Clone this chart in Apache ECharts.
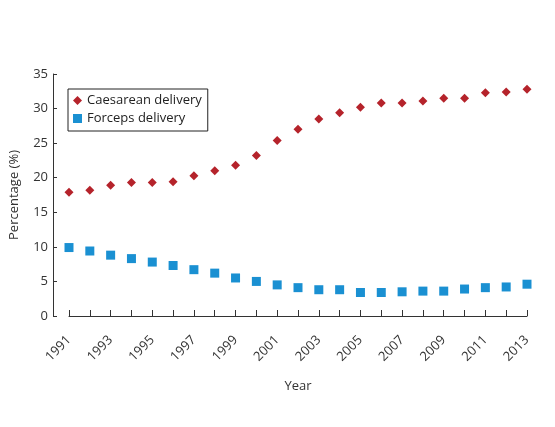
<!DOCTYPE html>
<html>
<head>
<meta charset="utf-8">
<script src="https://cdn.jsdelivr.net/npm/echarts@6/dist/echarts.min.js"></script>
<style>
  html, body { margin: 0; padding: 0; background: #fff; }
  #chart { width: 555px; height: 427px; }
</style>
</head>
<body>
<div id="chart"></div>
<script>
// 年份 及 两组百分比数据
var years = ['1991', '1992', '1993', '1994', '1995', '1996', '1997', '1998', '1999', '2000', '2001', '2002',
    '2003', '2004', '2005', '2006', '2007', '2008', '2009', '2010', '2011', '2012', '2013'];
var caesarean = [17.9, 18.2, 18.9, 19.3, 19.3, 19.4, 20.3, 21.0, 21.8, 23.2, 25.4, 27.0,
    28.5, 29.4, 30.2, 30.8, 30.8, 31.1, 31.5, 31.5, 32.3, 32.4, 32.8];
var forceps = [9.9, 9.4, 8.8, 8.3, 7.8, 7.3, 6.7, 6.2, 5.5, 5.0, 4.5, 4.1,
    3.8, 3.8, 3.4, 3.4, 3.5, 3.6, 3.6, 3.9, 4.1, 4.2, 4.6];
var yTicks = [0, 5, 10, 15, 20, 25, 30, 35];

var axisColor = '#333';
var font = '"Open Sans", sans-serif';

var chart = echarts.init(document.getElementById('chart'));
var option = {
    animation: false,
    textStyle: { fontFamily: font },
    grid: { left: 57, right: 28, top: 74, bottom: 111 },
    legend: {
        left: 68, top: 89,
        orient: 'vertical',
        padding: [5, 6, 6, 5],
        itemGap: 5,
        itemWidth: 9, itemHeight: 9,
        borderColor: '#222', borderWidth: 1,
        textStyle: { fontFamily: font, fontSize: 13, color: '#222' },
        data: ['Caesarean delivery', 'Forceps delivery']
    },
    xAxis: {
        type: 'category',
        data: years,
        boundaryGap: false,
        offset: 16,
        name: 'Year',
        nameLocation: 'middle',
        nameGap: 48,
        nameTextStyle: { fontSize: 13, color: axisColor },
        axisLine: { lineStyle: { color: axisColor, width: 1 } },
        axisTick: { inside: true, length: 6, interval: 0, lineStyle: { color: axisColor } },
        axisLabel: { interval: 1, rotate: 45, fontSize: 13, color: axisColor, margin: 6 },
        splitLine: { show: false }
    },
    yAxis: {
        type: 'value',
        min: yTicks[0], max: yTicks[yTicks.length - 1], interval: 5,
        offset: 16,
        name: 'Percentage (%)',
        nameLocation: 'middle',
        nameGap: 32,
        nameTextStyle: { fontSize: 13, color: axisColor },
        axisLine: { show: true, lineStyle: { color: axisColor, width: 1 } },
        axisTick: { show: true, inside: true, length: 4, lineStyle: { color: axisColor } },
        axisLabel: { fontSize: 13, color: axisColor, margin: 5 },
        splitLine: { show: false }
    },
    series: [
        {
            name: 'Caesarean delivery', type: 'scatter', symbol: 'diamond', symbolSize: 9,
            itemStyle: { color: '#b5232b', opacity: 1 },
            data: caesarean
        },
        {
            name: 'Forceps delivery', type: 'scatter', symbol: 'rect', symbolSize: 9,
            itemStyle: { color: '#1a90d2', opacity: 1 },
            data: forceps
        }
    ]
};
chart.setOption(option);
</script>
</body>
</html>
